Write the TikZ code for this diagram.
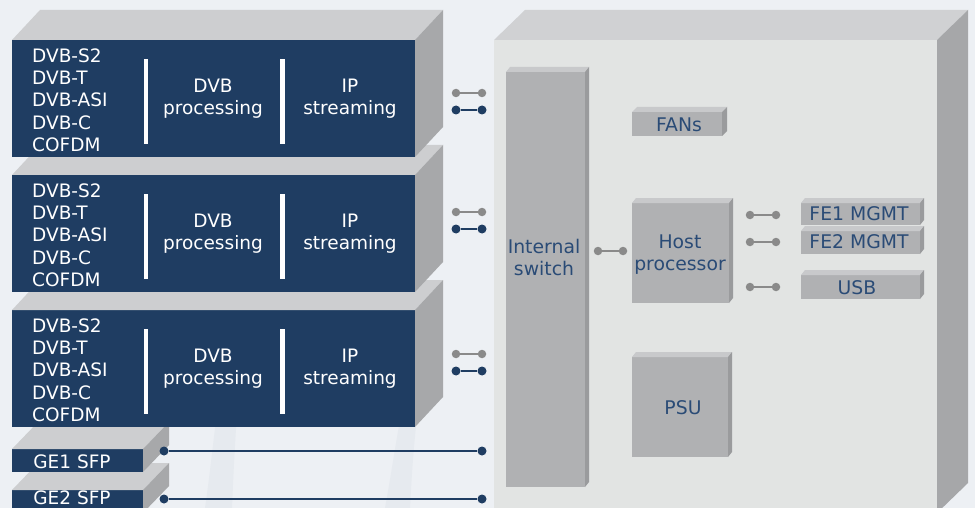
\documentclass[tikz,border=0pt]{standalone}
\usepackage{fontspec}
\setmainfont{DejaVu Sans}
\definecolor{bgc}{HTML}{EDF0F4}
\definecolor{streak}{HTML}{D9DFE6}
\definecolor{navy}{HTML}{1F3D62}
\definecolor{navytopc}{HTML}{CDCED0}
\definecolor{navysidec}{HTML}{A7A8AA}
\definecolor{chfrontc}{HTML}{E2E4E3}
\definecolor{chtopc}{HTML}{D0D1D3}
\definecolor{chsidec}{HTML}{A6A7A9}
\definecolor{boxfrontc}{HTML}{B0B1B3}
\definecolor{boxtopc}{HTML}{C8C9CB}
\definecolor{boxsidec}{HTML}{9A9B9D}
\definecolor{boxtext}{HTML}{2A4B76}
\definecolor{greyline}{HTML}{8A8A8A}
\definecolor{blueline}{HTML}{1F3D62}
\tikzset{
  navyfront/.style={rectangle, fill=navy, inner sep=0pt, outer sep=0pt},
  navytop/.style={fill=navytopc},
  navyside/.style={fill=navysidec},
  chfront/.style={rectangle, fill=chfrontc, inner sep=0pt, outer sep=0pt},
  chtop/.style={fill=chtopc},
  chside/.style={fill=chsidec},
  boxfront/.style={rectangle, fill=boxfrontc, inner sep=0pt, outer sep=0pt},
  boxtop/.style={fill=boxtopc},
  boxside/.style={fill=boxsidec},
  wtext/.style={text=white, font=\fontsize{18.5}{22.3}\selectfont, inner sep=0pt, align=center},
  btext/.style={text=boxtext, font=\fontsize{18.8}{22.5}\selectfont, inner sep=0pt, align=center},
  wbar/.style={rectangle, fill=white, inner sep=0pt, minimum width=4.5pt, minimum height=85pt},
  gdot/.style={circle, fill=greyline, inner sep=0pt, minimum size=8.5pt},
  bdot/.style={circle, fill=blueline, inner sep=0pt, minimum size=9pt},
  gline/.style={draw=greyline, line width=2.6pt},
  bline/.style={draw=blueline, line width=2.6pt},
}
% #1 name, #2 x1, #3 y1, #4 x2, #5 y2, #6 dx, #7 dy, #8 kind
\newcommand\cubebox[8]{%
  \node[#8front, minimum width={#4-#2}, minimum height={#5-#3}] (#1) at ({(#2+#4)/2},{(#3+#5)/2}) {};
  \fill[#8top] (#1.north west) -- ++(#6,-#7) -- ([shift={(#6,-#7)}]#1.north east) -- (#1.north east) -- cycle;
  \fill[#8side] (#1.north east) -- ++(#6,-#7) -- ([shift={(#6,-#7)}]#1.south east) -- (#1.south east) -- cycle;
}
% #1 name prefix, #2 y offset
\newcommand\dvbtext[2]{%
  \node[wtext, align=left, anchor=west] (#1list) at (32,{#2+60}) {DVB-S2\\DVB-T\\DVB-ASI\\DVB-C\\COFDM};
  \node[wbar] (#1bara) at (146,{#2+61.5}) {};
  \node[wbar] (#1barb) at (282.5,{#2+61.5}) {};
  \node[wtext] (#1proc) at (213,{#2+59}) {DVB\\processing};
  \node[wtext] (#1ip) at (350,{#2+59}) {IP\\streaming};
}
\begin{document}
\begin{tikzpicture}[x=1pt,y=-1pt]
\useasboundingbox (0,0) rectangle (975,508);
\clip (0,0) rectangle (975,508);
\fill[bgc] (0,0) rectangle (975,508);
% faint background streaks
\fill[streak, opacity=0.35] (205,508) .. controls (212,460) and (215,420) .. (222,380) -- (240,380) .. controls (236,420) and (234,460) .. (232,508) -- cycle;
\fill[streak, opacity=0.35] (385,508) .. controls (392,470) and (396,440) .. (402,410) -- (418,410) .. controls (414,440) and (412,470) .. (410,508) -- cycle;
% SFP modules (drawn bottom first)
\cubebox{ge2}{12}{490}{143}{513}{26}{27}{navy}
\node[wtext] (ge2t) at (72,497.5) {GE2 SFP};
\cubebox{ge1}{12}{449}{143}{472}{26}{27}{navy}
\node[wtext] (ge1t) at (72,462) {GE1 SFP};
% DVB blocks (bottom first, so upper fronts cover lower top faces)
\cubebox{b3}{12}{310}{415}{427}{28}{30}{navy}
\dvbtext{b3}{310}
\cubebox{b2}{12}{175}{415}{292}{28}{30}{navy}
\dvbtext{b2}{175}
\cubebox{b1}{12}{40}{415}{157}{28}{30}{navy}
\dvbtext{b1}{40}
% chassis
\cubebox{ch}{494}{40}{937}{513}{31}{30}{ch}
% internal boxes
\cubebox{sw}{506}{72}{585}{487}{4}{5}{box}
\node[btext] (swt) at (544,257.5) {Internal\\switch};
\cubebox{fan}{632}{112}{722}{136}{5}{5}{box}
\node[btext] (fant) at (679,125) {FANs};
\cubebox{host}{632}{203}{729}{303}{4}{5}{box}
\node[btext] (hostt) at (680,254.5) {Host\\processor};
\cubebox{fe1}{801}{203}{920}{225}{4}{5}{box}
\node[btext] (fe1t) at (859,213.5) {FE1 MGMT};
\cubebox{fe2}{801}{231}{920}{254}{4}{5}{box}
\node[btext] (fe2t) at (859,241.5) {FE2 MGMT};
\cubebox{usb}{801}{275}{920}{299}{4}{5}{box}
\node[btext] (usbt) at (857,287.5) {USB};
\cubebox{psu}{632}{357}{728}{457}{4}{5}{box}
\node[btext] (psut) at (683,408) {PSU};
% connectors between blocks and switch
\node[gdot] (g1a) at (456,93) {};  \node[gdot] (g1b) at (482,93) {};
\draw[gline] (g1a) -- (g1b);
\node[bdot] (n1a) at (456,110) {}; \node[bdot] (n1b) at (482,110) {};
\draw[bline] (n1a) -- (n1b);
\node[gdot] (g2a) at (456,212) {}; \node[gdot] (g2b) at (482,212) {};
\draw[gline] (g2a) -- (g2b);
\node[bdot] (n2a) at (456,229) {}; \node[bdot] (n2b) at (482,229) {};
\draw[bline] (n2a) -- (n2b);
\node[gdot] (g3a) at (456,354) {}; \node[gdot] (g3b) at (482,354) {};
\draw[gline] (g3a) -- (g3b);
\node[bdot] (n3a) at (456,371) {}; \node[bdot] (n3b) at (482,371) {};
\draw[bline] (n3a) -- (n3b);
% SFP lines
\node[bdot] (s1a) at (164,451) {}; \node[bdot] (s1b) at (482,451) {};
\draw[bline] (s1a) -- (s1b);
\node[bdot] (s2a) at (164,499) {}; \node[bdot] (s2b) at (482,499) {};
\draw[bline] (s2a) -- (s2b);
% internal connectors
\node[gdot] (h1a) at (598,251) {}; \node[gdot] (h1b) at (623,251) {};
\draw[gline] (h1a) -- (h1b);
\node[gdot] (f1a) at (750,215) {}; \node[gdot] (f1b) at (776,215) {};
\draw[gline] (f1a) -- (f1b);
\node[gdot] (f2a) at (750,242) {}; \node[gdot] (f2b) at (776,242) {};
\draw[gline] (f2a) -- (f2b);
\node[gdot] (u1a) at (750,287) {}; \node[gdot] (u1b) at (776,287) {};
\draw[gline] (u1a) -- (u1b);
\end{tikzpicture}
\end{document}
